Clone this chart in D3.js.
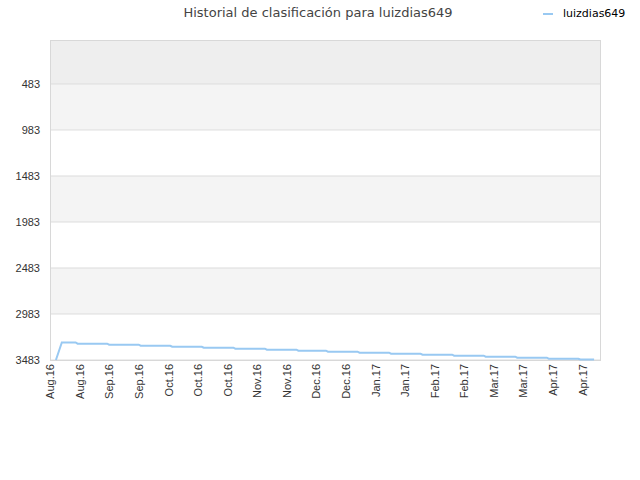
<!DOCTYPE html>
<html>
<head>
<meta charset="utf-8">
<script src="https://cdn.jsdelivr.net/npm/d3@7"></script>
<style>
  body { margin: 0; background: #fff; }
  svg { font-family: "DejaVu Sans", Verdana, sans-serif; }
</style>
</head>
<body>
<div id="chart"></div>
<script>
// data
var playerName = 'luizdias649';
var dates = ['2016-08-05', '2016-08-08', '2016-08-15', '2016-08-16', '2016-08-31', '2016-09-01',
  '2016-09-16', '2016-09-17', '2016-10-02', '2016-10-03', '2016-10-18', '2016-10-19',
  '2016-11-03', '2016-11-04', '2016-11-19', '2016-11-20', '2016-12-05', '2016-12-06',
  '2016-12-20', '2016-12-21', '2017-01-05', '2017-01-06', '2017-01-21', '2017-01-22',
  '2017-02-06', '2017-02-07', '2017-02-22', '2017-02-23', '2017-03-10', '2017-03-11',
  '2017-03-26', '2017-03-27', '2017-04-11', '2017-04-12', '2017-04-27', '2017-04-28',
  '2017-05-05'];
var ranks = [3483, 3293, 3293, 3306, 3306, 3317,
  3317, 3328, 3328, 3339, 3339, 3349,
  3349, 3360, 3360, 3371, 3371, 3382,
  3382, 3393, 3393, 3404, 3404, 3415,
  3415, 3425, 3425, 3436, 3436, 3447,
  3447, 3458, 3458, 3469, 3469, 3478,
  3478];
var yTicks = [483, 983, 1483, 1983, 2483, 2983, 3483];
var xTickDates = ['2016-08-02', '2016-08-17', '2016-09-01', '2016-09-16', '2016-10-01', '2016-10-16',
  '2016-10-31', '2016-11-15', '2016-11-30', '2016-12-15', '2016-12-30', '2017-01-14',
  '2017-01-29', '2017-02-13', '2017-02-28', '2017-03-15', '2017-03-30', '2017-04-14',
  '2017-04-29'];
var xTickLabels = ['Aug.16', 'Aug.16', 'Sep.16', 'Sep.16', 'Oct.16', 'Oct.16',
  'Oct.16', 'Nov.16', 'Nov.16', 'Dec.16', 'Dec.16', 'Jan.17',
  'Jan.17', 'Feb.17', 'Feb.17', 'Mar.17', 'Mar.17', 'Apr.17',
  'Apr.17'];

var width = 640, height = 480;
var margin = { top: 40, right: 40, bottom: 120, left: 50 };
var w = width - margin.left - margin.right;
var h = height - margin.top - margin.bottom;
var parse = d3.timeParse('%Y-%m-%d');

var points = dates.map(function (d, i) { return { date: parse(d), rank: ranks[i] }; });

var svg = d3.select('#chart').append('svg')
  .attr('width', width)
  .attr('height', height);

var x = d3.scaleTime()
  .domain([parse('2016-08-02'), parse('2017-05-08')])
  .range([0, w]);
var y = d3.scaleLinear()
  .domain([5, 3483])
  .range([0, h]);

var chart = svg.append('g')
  .attr('transform', 'translate(' + margin.left + ',' + margin.top + ')');

// alternating background bands
var bandEdges = [y.domain()[0]].concat(yTicks);
var bandColors = ['#eeeeee', '#f4f4f4', '#ffffff', '#f4f4f4', '#ffffff', '#f4f4f4', '#ffffff'];
chart.selectAll('rect.band')
  .data(d3.pairs(bandEdges))
  .enter().append('rect')
  .attr('class', 'band')
  .attr('x', 0)
  .attr('width', w)
  .attr('y', function (d) { return y(d[0]); })
  .attr('height', function (d) { return y(d[1]) - y(d[0]); })
  .attr('fill', function (d, i) { return bandColors[i]; });

// grid lines
chart.selectAll('line.grid')
  .data(yTicks)
  .enter().append('line')
  .attr('class', 'grid')
  .attr('x1', 0).attr('x2', w)
  .attr('y1', function (d) { return y(d); })
  .attr('y2', function (d) { return y(d); })
  .attr('stroke', '#dddddd');

chart.append('rect')
  .attr('x', 0.5).attr('y', 0.5)
  .attr('width', w).attr('height', h)
  .attr('fill', 'none')
  .attr('stroke', '#d8d8d8');

// y axis
var yAxis = chart.append('g')
  .call(d3.axisLeft(y).tickValues(yTicks).tickFormat(d3.format('d')).tickSize(0).tickPadding(10));
yAxis.select('.domain').remove();
yAxis.selectAll('text')
  .attr('fill', '#333')
  .style('font-size', '11px');

// x axis
var xAxis = chart.append('g')
  .attr('transform', 'translate(0,' + h + ')')
  .call(d3.axisBottom(x)
    .tickValues(xTickDates.map(parse))
    .tickFormat(function (d, i) { return xTickLabels[i]; })
    .tickSize(0));
xAxis.select('.domain').remove();
xAxis.selectAll('text')
  .attr('fill', '#333')
  .style('font-size', '11px')
  .attr('text-anchor', 'end')
  .attr('transform', 'rotate(-90)')
  .attr('x', -4)
  .attr('y', 0)
  .attr('dy', '0.35em');

// rank line
var line = d3.line()
  .x(function (d) { return x(d.date); })
  .y(function (d) { return y(d.rank); });

chart.append('path')
  .datum(points)
  .attr('fill', 'none')
  .attr('stroke', '#99c9f2')
  .attr('stroke-width', 2)
  .attr('d', line);

// title
svg.append('text')
  .attr('x', 318)
  .attr('y', 17)
  .attr('text-anchor', 'middle')
  .attr('fill', '#444')
  .style('font-size', '13px')
  .text('Historial de clasificación para ' + playerName);

// legend
svg.append('line')
  .attr('x1', 543).attr('x2', 553)
  .attr('y1', 14).attr('y2', 14)
  .attr('stroke', '#99c9f2')
  .attr('stroke-width', 2);
svg.append('text')
  .attr('x', 563)
  .attr('y', 17)
  .attr('fill', '#000')
  .style('font-size', '11px')
  .text(playerName);
</script>
</body>
</html>
